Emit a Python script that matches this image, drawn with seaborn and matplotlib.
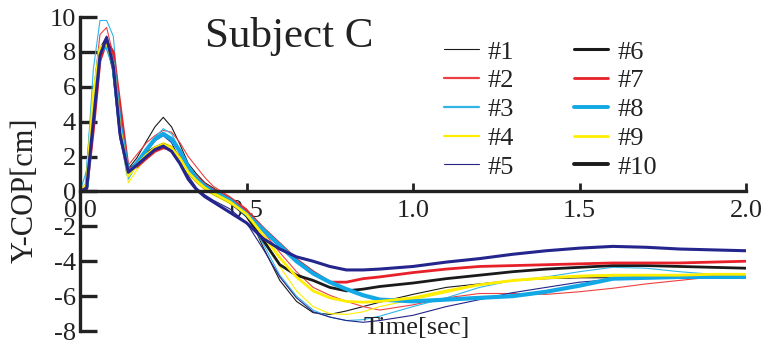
import numpy as np
import pandas as pd
import seaborn as sns
import matplotlib
matplotlib.use("Agg")
import matplotlib.pyplot as plt
from matplotlib.lines import Line2D

# ---- data ----
time = [0, 0.02, 0.04, 0.06, 0.08, 0.1, 0.12, 0.145, 0.17, 0.2, 0.225, 0.25, 0.275, 0.3,
        0.325, 0.35, 0.375, 0.4, 0.45, 0.5, 0.55, 0.6, 0.65, 0.7, 0.75, 0.8, 0.85, 0.9,
        1.0, 1.1, 1.2, 1.3, 1.4, 1.5, 1.6, 1.7, 1.8, 1.9, 2.0]

s1 = [0, 0.3, 4.0, 8.2, 8.9, 7.2, 3.8, 1.3, 1.9, 2.9, 3.7, 4.25, 3.7, 2.7, 1.6, 1.0, 0.5, 0.2,
      -0.4, -1.1, -3.2, -5.1, -6.3, -6.95, -7.05, -6.85, -6.6, -6.35, -5.9, -5.5, -5.3, -5.1,
      -5.0, -4.95, -4.95, -4.9, -4.9, -4.85, -4.8]
s2 = [0, 0.5, 5.5, 9.0, 9.4, 7.8, 4.0, 1.5, 2.1, 2.8, 3.2, 3.5, 3.4, 2.8, 2.0, 1.4, 0.8, 0.3,
      -0.3, -1.0, -2.3, -3.5, -4.6, -5.5, -5.95, -6.3, -6.6, -6.8, -6.5, -6.1, -5.85, -5.85,
      -5.9, -5.75, -5.55, -5.3, -5.1, -4.9, -4.75]
s3 = [0, 1.2, 7.0, 9.8, 9.8, 8.9, 4.5, 0.7, 1.5, 2.4, 3.1, 3.6, 3.3, 2.4, 1.5, 0.8, 0.3, 0.0,
      -0.6, -1.4, -3.0, -4.8, -6.0, -6.8, -7.2, -7.4, -7.35, -7.15, -6.6, -6.1, -5.5, -5.1,
      -4.9, -4.6, -4.35, -4.4, -4.6, -4.75, -4.8]
s4 = [0, 0.5, 5.5, 8.3, 8.5, 7.5, 3.5, 0.5, 1.2, 2.0, 2.5, 2.8, 2.6, 1.9, 1.0, 0.5, 0.1, -0.2,
      -0.7, -1.3, -2.6, -4.3, -5.7, -6.6, -7.0, -7.05, -6.9, -6.6, -6.2, -5.8, -5.35, -5.15,
      -5.0, -4.9, -4.85, -4.85, -4.85, -4.8, -4.8]
s5 = [0, 0.2, 4.0, 7.8, 8.9, 7.0, 3.0, 1.0, 1.5, 2.3, 2.9, 3.2, 2.8, 1.8, 0.9, 0.2, -0.2, -0.5,
      -1.0, -1.8, -3.3, -4.9, -6.1, -6.9, -7.2, -7.4, -7.5, -7.4, -7.1, -6.6, -6.2, -5.8,
      -5.5, -5.2, -5.05, -4.95, -4.9, -4.85, -4.85]
s6 = [0, 0.2, 4.5, 8.0, 8.6, 7.0, 3.5, 1.2, 1.6, 2.2, 2.5, 2.7, 2.5, 1.9, 1.1, 0.6, 0.2, -0.1,
      -0.6, -1.4, -2.8, -4.2, -4.8, -5.1, -5.5, -5.7, -5.6, -5.45, -5.25, -5.0, -4.8, -4.6,
      -4.45, -4.35, -4.25, -4.25, -4.3, -4.35, -4.4]
s7 = [0, 0.1, 3.5, 7.5, 8.6, 8.0, 5.0, 1.3, 1.4, 1.9, 2.3, 2.5, 2.4, 2.0, 1.4, 0.8, 0.4, 0.1,
      -0.4, -1.1, -2.1, -3.0, -3.9, -4.6, -5.2, -5.2, -5.0, -4.9, -4.65, -4.45, -4.3, -4.25,
      -4.2, -4.15, -4.1, -4.1, -4.1, -4.05, -4.0]
s8 = [0, 0.3, 5.0, 8.0, 8.4, 7.3, 3.8, 1.0, 1.6, 2.4, 3.0, 3.3, 3.0, 2.3, 1.4, 0.7, 0.3, 0.0,
      -0.5, -1.3, -2.2, -3.1, -4.0, -4.7, -5.2, -5.6, -5.95, -6.2, -6.3, -6.2, -6.1, -6.0,
      -5.75, -5.4, -5.0, -4.95, -4.9, -4.9, -4.9]
s9 = [0, 0.4, 5.5, 8.2, 8.5, 7.3, 3.6, 0.9, 1.5, 2.1, 2.5, 2.7, 2.5, 1.9, 1.1, 0.6, 0.2, -0.1,
      -0.6, -1.3, -2.5, -3.8, -4.9, -5.7, -6.1, -6.3, -6.35, -6.3, -6.1, -5.7, -5.35, -5.1,
      -4.95, -4.85, -4.8, -4.8, -4.8, -4.75, -4.75]
s10 = [0, 0.2, 4.0, 7.8, 8.8, 7.2, 3.3, 1.1, 1.5, 2.0, 2.4, 2.6, 2.3, 1.6, 0.7, 0.1, -0.3, -0.6,
       -1.2, -1.8, -2.7, -3.3, -3.75, -4.0, -4.3, -4.5, -4.5, -4.45, -4.3, -4.05, -3.85, -3.6,
       -3.4, -3.25, -3.15, -3.2, -3.3, -3.35, -3.4]

series_names = ["#1", "#2", "#3", "#4", "#5", "#6", "#7", "#8", "#9", "#10"]
series_values = [s1, s2, s3, s4, s5, s6, s7, s8, s9, s10]
y_ticks = [10, 8, 6, 4, 2, 0, -2, -4, -6, -8]
y_ticklabels = ["10", "8", "6", "4", "2", "0", "-2", "-4", "-6", "-8"]
x_ticks = [0.0, 0.5, 1.0, 1.5, 2.0]
x_ticklabels = ["0.0", "0.5", "1.0", "1.5", "2.0"]

# ---- styles ----
line_colors = ["#1a1a1a", "#ee4040", "#30b4ea", "#ffee00", "#23238a",
               "#1a1a1a", "#e8202a", "#12a8e6", "#ffee00", "#25258e"]
line_widths = [0.8, 0.8, 0.8, 0.8, 0.8, 2.0, 2.0, 3.0, 2.0, 2.2]
legend_colors = ["#1a1a1a", "#ee4040", "#30b4ea", "#ffee00", "#23238a",
                 "#1a1a1a", "#e8202a", "#12a8e6", "#ffee00", "#1a1a1a"]
legend_widths = [0.8, 1.6, 1.6, 1.6, 0.8, 2.2, 2.0, 2.8, 2.0, 2.8]

rows = []
for name, vals in zip(series_names, series_values):
    for t, v in zip(time, vals):
        rows.append({"Time": t, "COP": v, "Trial": name})
df = pd.DataFrame(rows)

sns.set_theme(style="white")
plt.rcParams["font.family"] = ["Liberation Serif", "DejaVu Serif"]
plt.rcParams["axes.unicode_minus"] = False

fig = plt.figure(figsize=(7.67, 3.45), dpi=100)
W, H = 767, 345
ax = fig.add_axes([80 / W, 1 - 331 / H, (746 - 80) / W, (331 - 17) / H])

palette = dict(zip(series_names, line_colors))
sns.lineplot(data=df, x="Time", y="COP", hue="Trial", palette=palette,
             ax=ax, legend=False, estimator=None, sort=False)
for line, lw in zip(ax.lines, line_widths):
    line.set_linewidth(lw)
    line.set_solid_joinstyle("round")

ax.set_xlim(0, 2.0)
ax.set_ylim(-8, 10)
ax.spines["top"].set_visible(False)
ax.spines["right"].set_visible(False)
ax.spines["bottom"].set_position(("data", 0))
for sp in ("left", "bottom"):
    ax.spines[sp].set_linewidth(2.4)
    ax.spines[sp].set_color("#222222")

ax.set_yticks(y_ticks)
ax.set_yticklabels(y_ticklabels)
ax.set_xticks(x_ticks)
ax.set_xticklabels(x_ticklabels)
ax.tick_params(axis="y", direction="in", length=12.5, width=2.4, color="#222222",
               labelsize=19, pad=3, left=True, labelcolor="#222222")
ax.tick_params(axis="x", direction="in", length=6, width=2.0, color="#222222",
               labelsize=19, pad=6, bottom=True, labelcolor="#222222")
ax.set_xlabel("")
ax.set_ylabel("")
ax.grid(False)

fig.text(25 / W, 1 - 190 / H, "Y-COP[cm]", rotation=90, ha="center", va="center",
         fontsize=22, color="#222222")
fig.text(417 / W, 1 - 328 / H, "Time[sec]", ha="center", va="center",
         fontsize=19, color="#222222")
fig.text(205 / W, 1 - 47 / H, "Subject C", ha="left", va="baseline",
         fontsize=31, color="#222222")

handles = [Line2D([0], [0], color=c, lw=w) for c, w in zip(legend_colors, legend_widths)]
leg = fig.legend(handles, series_names, ncol=2, frameon=False, fontsize=19,
                 loc="upper left", bbox_to_anchor=(431 / W, 1 - 27 / H),
                 handlelength=1.3, handletextpad=0.35, columnspacing=2.25,
                 labelspacing=0.2, borderpad=0.0)
for txt in leg.get_texts():
    txt.set_color("#222222")

fig.savefig("out.png", dpi=100)
